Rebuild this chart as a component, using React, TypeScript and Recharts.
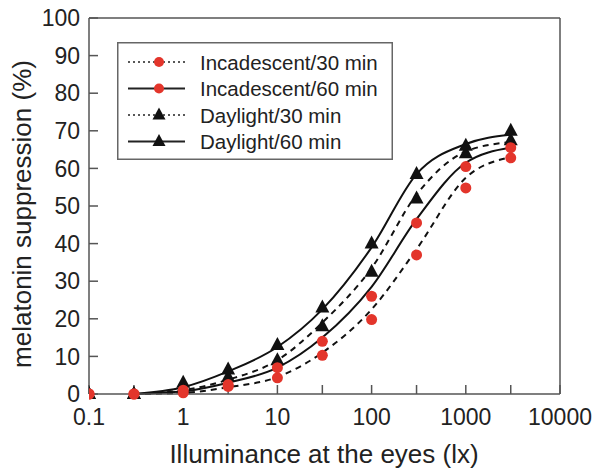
import React from 'react';
import { ComposedChart, Line, XAxis, YAxis, ReferenceLine, Legend, Label } from 'recharts';

// Illuminance (lx) at which suppression was measured
const lux = [0.1, 0.3, 1, 3, 10, 30, 100, 300, 1000, 3000];

// Measured points (%)
const daylight60 = [0, 0, 3, 6.5, 13, 23, 40, 58.5, 66, 70];
const daylight30 = [0, 0, 1.5, 4.5, 9, 18, 32.5, 52, 64, 67.5];
const incand60 = [0, 0, 1, 2.5, 7, 14, 26, 45.5, 60.5, 65.5];
const incand30 = [0, 0, 0.3, 2, 4.3, 10.3, 19.8, 37, 54.8, 62.8];

// Fitted curves (null = curve not drawn there)
const daylight60Fit = [null, 0, 1.8, 6, 12.5, 22.5, 39, 58.5, 66.5, 69];
const daylight30Fit = [null, 0, 1, 3.8, 9, 19, 33.5, 53, 64.5, 67];
const incand60Fit = [null, 0, 0.7, 3, 7, 15, 28.5, 46.5, 61.5, 65.5];
const incand30Fit = [null, 0, 0.3, 1.8, 4.5, 11, 22.5, 38.5, 57.5, 63];

const xTicks = [0.1, 0.3, 1, 3, 10, 30, 100, 300, 1000, 3000, 10000];
const xTickLabels = ['0.1', '', '1', '', '10', '', '100', '', '1000', '', '10000'];
const yTicks = [0, 10, 20, 30, 40, 50, 60, 70, 80, 90, 100];

const legendLabels = ['Incadescent/30 min', 'Incadescent/60 min', 'Daylight/30 min', 'Daylight/60 min'];

const data = lux.map((x, i) => ({
  lux: x,
  d60: daylight60[i],
  d30: daylight30[i],
  i60: incand60[i],
  i30: incand30[i],
  d60f: daylight60Fit[i],
  d30f: daylight30Fit[i],
  i60f: incand60Fit[i],
  i30f: incand30Fit[i],
}));

const RED = '#e3352b';
const AXIS = '#555';
const FONT = '"Liberation Sans", Arial, sans-serif';

const circleDot = (props: any) => {
  const { cx, cy, index } = props;
  if (cx == null || cy == null) return <g key={`c-${index}`} />;
  return <circle key={`c-${index}`} cx={cx} cy={cy} r={5.5} fill={RED} />;
};

const triDot = (props: any) => {
  const { cx, cy, index } = props;
  if (cx == null || cy == null) return <g key={`t-${index}`} />;
  return (
    <path
      key={`t-${index}`}
      d={`M${cx},${cy - 8}L${cx + 7},${cy + 5}L${cx - 7},${cy + 5}Z`}
      fill="#111"
    />
  );
};

const LegendBox = () => {
  const rows = [20, 46.5, 73, 99.5];
  return (
    <svg width={276} height={118} style={{ display: 'block' }}>
      <rect x={0.75} y={0.75} width={274.5} height={116.5} fill="#fff" stroke="#666" strokeWidth={1.5} />
      {legendLabels.map((lab, i) => {
        const y = rows[i];
        const dotted = i === 0 || i === 2;
        const isTri = i >= 2;
        return (
          <g key={lab}>
            <line
              x1={11}
              x2={68}
              y1={y}
              y2={y}
              stroke="#222"
              strokeWidth={dotted ? 1.3 : 2}
              strokeDasharray={dotted ? '2 3' : undefined}
            />
            {isTri ? (
              <path d={`M42,${y - 7.5}L48.5,${y + 4.5}L35.5,${y + 4.5}Z`} fill="#111" />
            ) : (
              <circle cx={42} cy={y} r={5} fill={RED} />
            )}
            <text x={83} y={y + 7.5} fontSize={20.5} fill="#222" fontFamily={FONT}>
              {lab}
            </text>
          </g>
        );
      })}
    </svg>
  );
};

const XTitle = () => (
  <text x={324} y={463} textAnchor="middle" fontSize={26} fill="#222" fontFamily={FONT}>
    Illuminance at the eyes (lx)
  </text>
);

const YTitle = () => (
  <text
    x={31}
    y={214}
    transform="rotate(-90 31 214)"
    textAnchor="middle"
    fontSize={26}
    fill="#222"
    fontFamily={FONT}
  >
    melatonin suppression (%)
  </text>
);

export default function App() {
  return (
    <div style={{ position: 'absolute', left: 0, top: 0, width: 601, height: 469, background: '#fff', fontFamily: FONT }}>
      <ComposedChart width={601} height={469} data={data} margin={{ top: 18, right: 41, bottom: 0, left: 0 }}>
        <XAxis
          dataKey="lux"
          type="number"
          scale="log"
          domain={[0.1, 10000]}
          ticks={xTicks}
          tickFormatter={(v: number) => xTickLabels[xTicks.indexOf(v)] ?? ''}
          height={75}
          tickSize={-9}
          tickMargin={24}
          axisLine={{ stroke: AXIS, strokeWidth: 1.5 }}
          tickLine={{ stroke: AXIS, strokeWidth: 1.5 }}
          tick={{ fontSize: 23, fill: '#222', fontFamily: FONT }}
          interval={0}
          allowDataOverflow
        >
          <Label content={XTitle} />
        </XAxis>
        <YAxis
          type="number"
          domain={[0, 100]}
          ticks={yTicks}
          width={89}
          tickSize={-9}
          tickMargin={18}
          axisLine={{ stroke: AXIS, strokeWidth: 1.5 }}
          tickLine={{ stroke: AXIS, strokeWidth: 1.5 }}
          tick={{ fontSize: 23, fill: '#222', fontFamily: FONT }}
          interval={0}
        >
          <Label content={YTitle} />
        </YAxis>
        <ReferenceLine y={100} stroke={AXIS} strokeWidth={1.5} />
        <ReferenceLine x={10000} stroke={AXIS} strokeWidth={1.5} />

        <Line dataKey="i30f" type="monotone" stroke="#111" strokeWidth={2} strokeDasharray="6 5" dot={false} activeDot={false} isAnimationActive={false} legendType="none" />
        <Line dataKey="i60f" type="monotone" stroke="#111" strokeWidth={2} dot={false} activeDot={false} isAnimationActive={false} legendType="none" />
        <Line dataKey="d30f" type="monotone" stroke="#111" strokeWidth={2} strokeDasharray="6 5" dot={false} activeDot={false} isAnimationActive={false} legendType="none" />
        <Line dataKey="d60f" type="monotone" stroke="#111" strokeWidth={2} dot={false} activeDot={false} isAnimationActive={false} legendType="none" />

        <Line dataKey="d30" stroke="none" dot={triDot} activeDot={false} isAnimationActive={false} legendType="none" />
        <Line dataKey="d60" stroke="none" dot={triDot} activeDot={false} isAnimationActive={false} legendType="none" />
        <Line dataKey="i30" stroke="none" dot={circleDot} activeDot={false} isAnimationActive={false} legendType="none" />
        <Line dataKey="i60" stroke="none" dot={circleDot} activeDot={false} isAnimationActive={false} legendType="none" />

        <Legend
          content={LegendBox}
          layout="horizontal"
          verticalAlign="middle"
          align="center"
          wrapperStyle={{ position: 'absolute', left: 117, top: 42, width: 276, height: 118 }}
        />
      </ComposedChart>
    </div>
  );
}
